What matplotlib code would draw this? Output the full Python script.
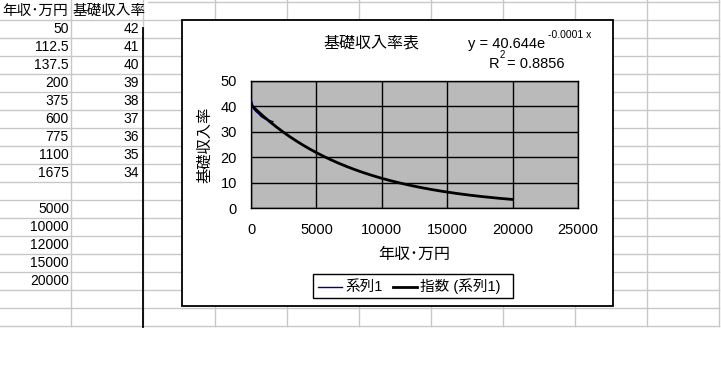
import numpy as np
import matplotlib
matplotlib.use("Agg")
import matplotlib.pyplot as plt
from matplotlib.patches import Rectangle

plt.rcParams['font.family'] = ['Liberation Sans', 'Noto Sans CJK JP']

# sheet data (column A: income, column B: base income rate)
income = [50, 112.5, 137.5, 200, 375, 600, 775, 1100, 1675, 5000, 10000, 12000, 15000, 20000]
rate = [42, 41, 40, 39, 38, 37, 36, 35, 34, None, None, None, None, None]
income_labels = ["50", "112.5", "137.5", "200", "375", "600", "775", "1100", "1675",
                 "5000", "10000", "12000", "15000", "20000"]
sheet_rows = [1, 2, 3, 4, 5, 6, 7, 8, 9, 11, 12, 13, 14, 15]

x_ticks = [0, 5000, 10000, 15000, 20000, 25000]
y_ticks = [0, 10, 20, 30, 40, 50]

fig = plt.figure(figsize=(7.21, 3.84), dpi=100)

# background "spreadsheet" in pixel coords
bg = fig.add_axes([0, 0, 1, 1])
bg.set_xlim(0, 721)
bg.set_ylim(384, 0)
bg.axis("off")

grid_c = "#c8c8c8"
col_x = [71, 143, 215, 287, 359, 431, 503, 575, 647, 719]
for cx in col_x:
    bg.plot([cx, cx], [0, 326], color=grid_c, lw=1, zorder=1)
bg.plot([148, 719], [2, 2], color=grid_c, lw=1, zorder=1)
for k in range(1, 19):
    y = 2 + 18 * k
    bg.plot([0, 719], [y, y], color=grid_c, lw=1, zorder=1)
bg.plot([143, 143], [28, 327], color="black", lw=1.3, zorder=2)

bg.text(2, 11, "年収･万円", fontsize=10.5, ha="left", va="center", zorder=3)
bg.text(73, 11, "基礎収入率", fontsize=10.5, ha="left", va="center", zorder=3)
for lab, r, v in zip(income_labels, sheet_rows, rate):
    yc = 11 + 18 * r
    bg.text(69, yc, lab, fontsize=10, ha="right", va="center", zorder=3)
    if v is not None:
        bg.text(139, yc, str(v), fontsize=10, ha="right", va="center", zorder=3)

# chart frame
bg.add_patch(Rectangle((182, 20), 431, 286, facecolor="white", edgecolor="black", lw=1.3, zorder=4))
bg.text(371, 43, "基礎収入率表", fontsize=11.5, ha="center", va="center", zorder=5)
bg.text(468, 44, "y = 40.644e", fontsize=10.5, ha="left", va="center", zorder=5)
bg.text(548, 35, "-0.0001 x", fontsize=7.5, ha="left", va="center", zorder=5)
bg.text(489, 64, "R", fontsize=10.5, ha="left", va="center", zorder=5)
bg.text(500, 55, "2", fontsize=7, ha="left", va="center", zorder=5)
bg.text(507, 64, "= 0.8856", fontsize=10.5, ha="left", va="center", zorder=5)

# legend
bg.add_patch(Rectangle((313, 274), 200, 24, facecolor="white", edgecolor="black", lw=1, zorder=5))
bg.plot([318, 342], [286.5, 286.5], color="#000080", lw=1, zorder=6)
bg.text(345, 286.5, "系列1", fontsize=10.5, ha="left", va="center", zorder=6)
bg.plot([393, 417], [286.5, 286.5], color="black", lw=2, zorder=6)
bg.text(420, 286.5, "指数 (系列1)", fontsize=10.5, ha="left", va="center", zorder=6)

# plot area
ax = fig.add_axes([251 / 721, 1 - 208 / 384, 327 / 721, 127 / 384], zorder=2)
ax.set_facecolor("#bababa")
xs = np.array([a for a, b in zip(income, rate) if b is not None], dtype=float)
ys = np.array([b for b in rate if b is not None], dtype=float)
ax.plot(xs, ys, color="#000080", lw=1, zorder=3)

# exponential trendline fitted on the data, over the income range
k, ln_a = np.polyfit(xs, np.log(ys), 1)
tx = np.linspace(min(income), max(income), 200)
ax.plot(tx, np.exp(ln_a) * np.exp(k * tx), color="black", lw=2, zorder=4)

ax.set_xlim(0, 25000)
ax.set_ylim(0, 50)
ax.set_xticks(x_ticks)
ax.set_yticks(y_ticks)
ax.grid(True, color="black", lw=1)
ax.set_axisbelow(True)
ax.tick_params(length=0, labelsize=10.5)
ax.tick_params(axis="x", pad=11)
ax.tick_params(axis="y", pad=10)
for s in ax.spines.values():
    s.set_linewidth(1)
ax.set_xlabel("年収･万円", fontsize=11.5, labelpad=7)
ax.set_ylabel("基礎収入率", fontsize=11, labelpad=6)

fig.savefig("out.png", dpi=100)
